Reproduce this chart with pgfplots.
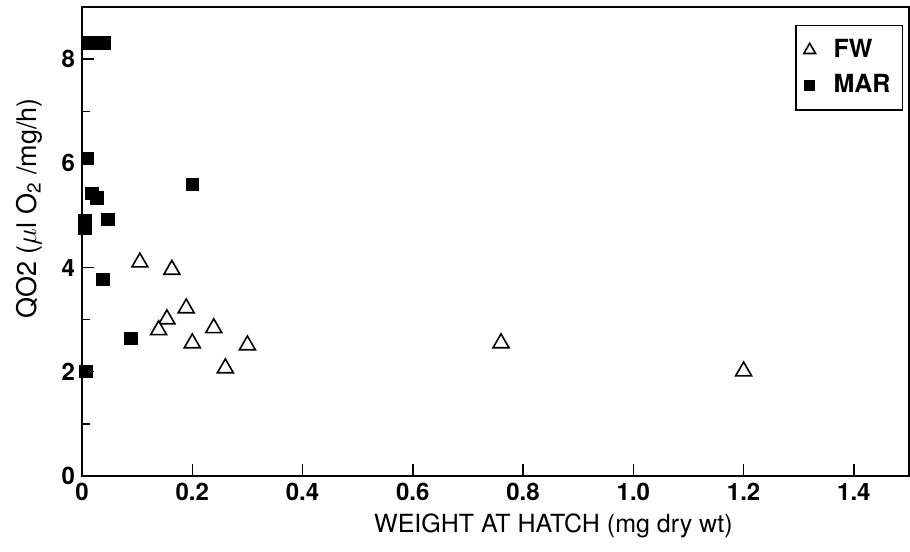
\documentclass[border=0pt]{standalone}
\usepackage{pgfplots}
\pgfplotsset{compat=1.18}
\usepackage{fontspec}
\setmainfont{TeX Gyre Heros}

\begin{document}
\begin{tikzpicture}
\begin{axis}[
  scale only axis,
  width=413.5pt, height=234.5pt,
  xmin=0, xmax=1.5, ymin=0, ymax=9,
  xtick={0,0.2,0.4,0.6,0.8,1.0,1.2,1.4},
  xticklabels={0,0.2,0.4,0.6,0.8,1.0,1.2,1.4},
  ytick={0,2,4,6,8},
  minor ytick={1,3,5,7},
  tick pos=left,
  tick align=inside,
  major tick length=6pt, minor tick length=4pt,
  tick style={black, line width=0.7pt},
  axis line style={line width=0.8pt},
  /pgf/number format/assume math mode=true,
  ticklabel style={font=\fontsize{12}{14}\selectfont\bfseries},
  xlabel={WEIGHT AT HATCH (mg dry wt)},
  ylabel={QO2 ($\mu$l O\textsubscript{2} /mg/h)},
  label style={font=\fontsize{12.5}{14}\selectfont},
  xlabel style={at={(axis description cs:0.57,0)}, anchor=center, yshift=-25pt},
  ylabel style={at={(axis description cs:-0.064,0.57)}, anchor=center,
    font=\fontsize{13.5}{15}\selectfont},
  legend style={at={(0.993,0.962)}, anchor=north east, draw=black, line width=0.7pt,
    font=\fontsize{12.5}{14}\selectfont\bfseries, row sep=3pt, inner xsep=4pt, inner ysep=5pt},
  legend cell align=left,
]
% FW: open triangles
\addplot[only marks, mark=triangle*, mark size=4.6pt, draw=black, fill=white, line width=0.8pt,
  legend image post style={mark size=3.4pt}] coordinates {
  (0.105,4.10) (0.163,3.96) (0.189,3.22) (0.154,3.01) (0.139,2.80)
  (0.239,2.84) (0.200,2.55) (0.300,2.51) (0.260,2.07) (0.760,2.55) (1.200,2.01)
};
\addlegendentry{\hspace{7pt}FW}
% MAR: filled squares
\addplot[only marks, mark=square*, mark size=3.1pt, black,
  legend image post style={mark size=2.5pt}] coordinates {
  (0.010,8.31) (0.025,8.31) (0.040,8.31) (0.010,6.09) (0.200,5.59)
  (0.018,5.42) (0.027,5.34) (0.005,4.90) (0.005,4.75) (0.047,4.92)
  (0.038,3.77) (0.089,2.64) (0.007,2.01)
};
\addlegendentry{\hspace{7pt}MAR}
\end{axis}
\pgfresetboundingbox
\path[use as bounding box] ([shift={(-41pt,-38pt)}]current axis.south west) rectangle ([shift={(0.5pt,3.5pt)}]current axis.north east);
\end{tikzpicture}
\end{document}
